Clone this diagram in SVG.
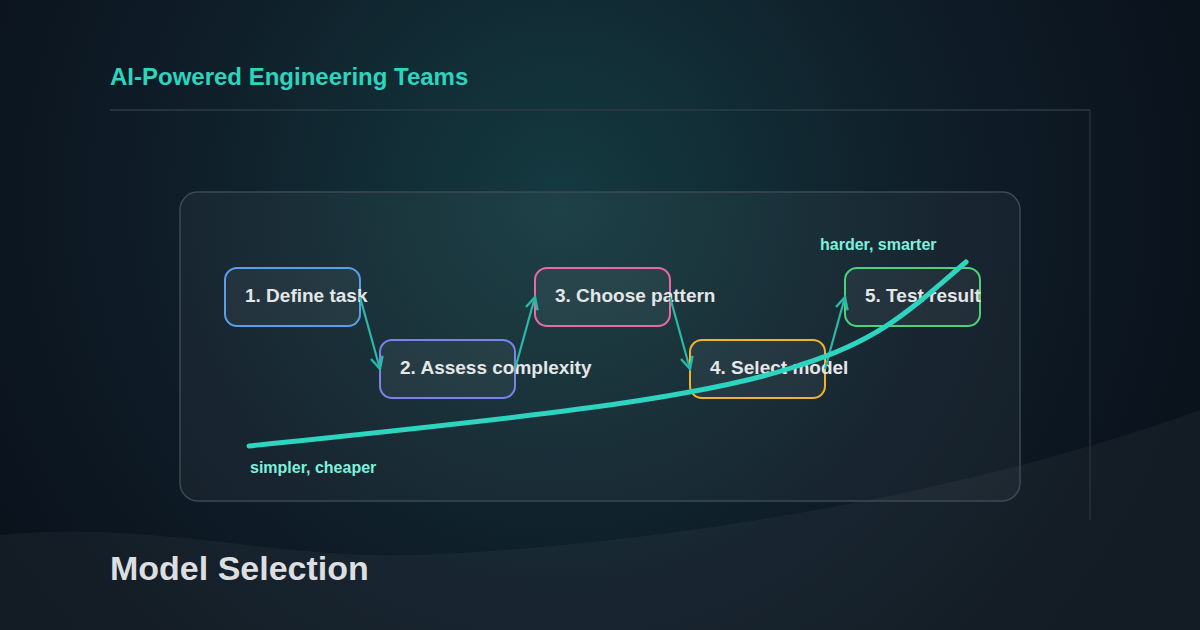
<svg xmlns="http://www.w3.org/2000/svg" width="1200" height="630" viewBox="0 0 1200 630">
<defs>
<radialGradient id="glow" cx="560" cy="200" r="650" gradientUnits="userSpaceOnUse">
<stop offset="0" stop-color="#143a40"/><stop offset="0.6" stop-color="#0f1d28"/><stop offset="1" stop-color="#0a121c"/>
</radialGradient>
<marker id="ah" viewBox="0 0 16 16" refX="14" refY="8" markerWidth="16" markerHeight="16" markerUnits="userSpaceOnUse" orient="auto">
<path d="M2,2 L14,8 L2,14" fill="none" stroke="#2bb8a6" stroke-width="2.4"/>
</marker>
<style>
.node rect{fill:#ffffff;fill-opacity:0.05;stroke-width:2}
.node text{font-family:"Liberation Sans",Arial,sans-serif;font-weight:bold;font-size:19px;fill:#e4e6e8}
.conn line{stroke:#2bb8a6;stroke-width:2.2;marker-end:url(#ah)}
.lbl{font-family:"Liberation Sans",Arial,sans-serif;font-weight:bold;font-size:16px;fill:#7ef0dc}
</style>
</defs>
<rect width="1200" height="630" fill="url(#glow)"/>
<path d="M0,535 C150,520 280,560 420,555 C650,545 950,500 1200,410 L1200,630 L0,630 Z" fill="#ffffff" fill-opacity="0.04"/>
<line x1="110" y1="110" x2="1090" y2="110" stroke="#2e3b46" stroke-width="1.5"/>
<line x1="1090" y1="110" x2="1090" y2="520" stroke="#25313b" stroke-width="1.5"/>
<text x="110" y="85" font-family="Liberation Sans,Arial,sans-serif" font-weight="bold" font-size="24" fill="#2dd4bf">AI-Powered Engineering Teams</text>
<rect x="180" y="192" width="840" height="309" rx="18" fill="#ffffff" fill-opacity="0.04" stroke="#3c4a55" stroke-width="1.5"/>
<g id="n1" class="node"><rect x="225" y="268" width="135" height="58" rx="12" stroke="#5b9ee8"/><text x="245" y="302">1. Define task</text></g>
<g id="n2" class="node"><rect x="380" y="340" width="135" height="58" rx="12" stroke="#7b82e8"/><text x="400" y="374">2. Assess complexity</text></g>
<g id="n3" class="node"><rect x="535" y="268" width="135" height="58" rx="12" stroke="#e868a8"/><text x="555" y="302">3. Choose pattern</text></g>
<g id="n4" class="node"><rect x="690" y="340" width="135" height="58" rx="12" stroke="#f0b429"/><text x="710" y="374">4. Select model</text></g>
<g id="n5" class="node"><rect x="845" y="268" width="135" height="58" rx="12" stroke="#4ed07a"/><text x="865" y="302">5. Test result</text></g>
<g id="connectors" class="conn">
<line x1="360" y1="297" x2="380" y2="369"/>
<line x1="515" y1="369" x2="535" y2="297"/>
<line x1="670" y1="297" x2="690" y2="369"/>
<line x1="825" y1="369" x2="845" y2="297"/>
</g>
<path d="M249,446 C500,420 700,400 800,365 C880,340 910,310 966,262" fill="none" stroke="#2dd4bf" stroke-width="5" stroke-linecap="round"/>
<text class="lbl" x="250" y="473">simpler, cheaper</text>
<text class="lbl" x="820" y="250">harder, smarter</text>
<text x="110" y="580" font-family="Liberation Sans,Arial,sans-serif" font-weight="bold" font-size="34" fill="#dcdee0">Model Selection</text>
</svg>
